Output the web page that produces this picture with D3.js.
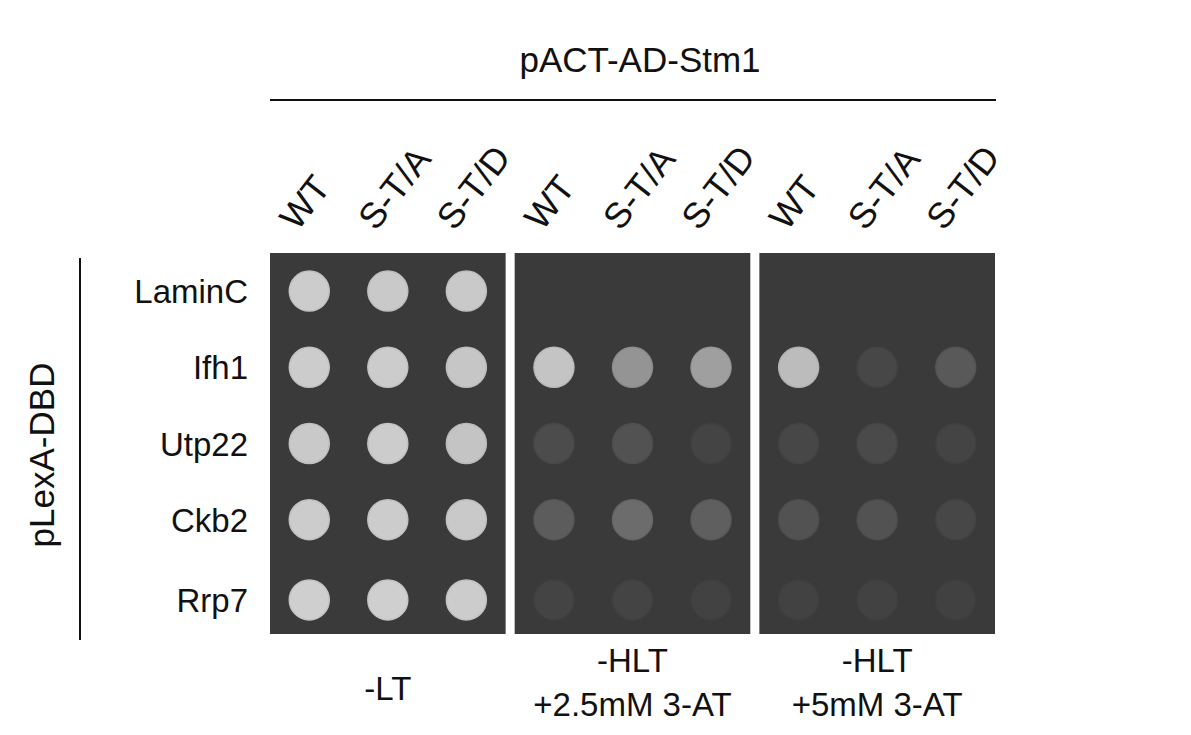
<!DOCTYPE html><html><head><meta charset="utf-8">
<script src="https://cdn.jsdelivr.net/npm/d3@7"></script>
<style>body{margin:0;background:#fff}text{font-family:Arial,"Liberation Sans",sans-serif;fill:#111}</style></head><body>
<script>
const rows=["LaminC","Ifh1","Utp22","Ckb2","Rrp7"];
const strains=["WT","S-T/A","S-T/D"];
const media=["-LT","-HLT\n+2.5mM 3-AT","-HLT\n+5mM 3-AT"];
// colony growth intensity (0-1) per medium, row, strain
const growthLT=[[0.9,0.88,0.88],[0.9,0.9,0.86],[0.88,0.9,0.85],[0.9,0.9,0.88],[0.92,0.92,0.9]];
const growth25=[[0,0,0],[0.85,0.55,0.62],[0.1,0.14,0.05],[0.2,0.3,0.22],[0.05,0.05,0.04]];
const growth5=[[0,0,0],[0.8,0.07,0.18],[0.07,0.09,0.05],[0.14,0.14,0.07],[0.04,0.04,0.03]];
const growth=[growthLT,growth25,growth5];

const svg=d3.select("body").append("svg").attr("width",1191).attr("height",735);
const px=d3.scaleBand().domain(media).range([270,995]).paddingInner(0.037).paddingOuter(0);
const py=[253,634];
const ry=d3.scaleBand().domain(rows).range(py).padding(0);
const colScale=d3.scaleLinear().domain([0,1]).range(["#3c3c3c","#dcdcdc"]);

media.forEach((m,mi)=>{
  const x0=px(m),w=px.bandwidth();
  svg.append("rect").attr("x",x0).attr("y",py[0]).attr("width",w).attr("height",py[1]-py[0]).attr("fill","#3a3a3a");
  const cx=d3.scaleBand().domain(strains).range([x0,x0+w]).padding(0);
  rows.forEach((r,ri)=>strains.forEach((s,si)=>{
    const v=growth[mi][ri][si];
    if(v<=0)return;
    svg.append("circle").attr("cx",cx(s)+cx.bandwidth()/2).attr("cy",ry(r)+ry.bandwidth()/2+(ri==4?4:0))
      .attr("r",20).attr("fill",colScale(v)).attr("stroke",d3.color(colScale(v)).darker(0.15)).attr("stroke-width",1.5);
  }));
  strains.forEach(s=>{
    const x=cx(s)+cx.bandwidth()/2-12;
    svg.append("text").attr("transform",`translate(${x},232) rotate(-52)`).attr("font-size",36).text(s);
  });
  const lines=m.split("\n");
  const t=svg.append("text").attr("text-anchor","middle").attr("font-size",33);
  if(lines.length==1) t.append("tspan").attr("x",x0+w/2).attr("y",700).text(lines[0]);
  else lines.forEach((l,i)=>t.append("tspan").attr("x",x0+w/2).attr("y",672+i*44).text(l));
});
rows.forEach(r=>svg.append("text").attr("x",248).attr("y",ry(r)+ry.bandwidth()/2+(r=="Rrp7"?16:12)).attr("text-anchor","end").attr("font-size",33).text(r));
svg.append("line").attr("x1",270).attr("x2",996).attr("y1",100).attr("y2",100).attr("stroke","#111").attr("stroke-width",2);
svg.append("text").attr("x",640).attr("y",72).attr("text-anchor","middle").attr("font-size",35).text("pACT-AD-Stm1");
svg.append("line").attr("x1",80).attr("x2",80).attr("y1",258).attr("y2",640).attr("stroke","#111").attr("stroke-width",2);
svg.append("text").attr("transform","translate(54,455) rotate(-90)").attr("text-anchor","middle").attr("font-size",35).text("pLexA-DBD");
</script></body></html>
